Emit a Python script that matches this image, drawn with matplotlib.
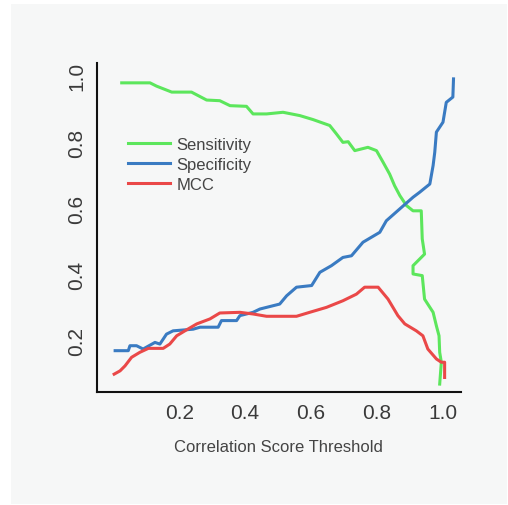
import matplotlib.pyplot as plt
from matplotlib.patches import Rectangle

# threshold / value pairs
sens_x = [0.025, 0.111, 0.131, 0.177, 0.237, 0.283, 0.323, 0.354, 0.404, 0.424,
          0.465, 0.515, 0.566, 0.606, 0.657, 0.677, 0.697, 0.713, 0.733, 0.773,
          0.799, 0.819, 0.839, 0.854, 0.870, 0.890, 0.910, 0.935, 0.938, 0.945,
          0.910, 0.910, 0.938, 0.945, 0.971, 0.981, 0.989, 0.991, 0.996, 0.991]
sens_y = [0.979, 0.979, 0.969, 0.951, 0.951, 0.927, 0.925, 0.910, 0.908, 0.885,
          0.885, 0.890, 0.880, 0.868, 0.850, 0.825, 0.799, 0.801, 0.774, 0.784,
          0.774, 0.739, 0.703, 0.668, 0.638, 0.608, 0.592, 0.592, 0.507, 0.461,
          0.426, 0.401, 0.396, 0.325, 0.285, 0.244, 0.214, 0.164, 0.134, 0.068]

spec_x = [0.005, 0.045, 0.050, 0.070, 0.090, 0.126, 0.141, 0.161, 0.181, 0.242,
          0.263, 0.318, 0.328, 0.374, 0.384, 0.424, 0.445, 0.505, 0.526, 0.556,
          0.602, 0.627, 0.662, 0.697, 0.723, 0.758, 0.809, 0.829, 0.870, 0.910,
          0.930, 0.961, 0.971, 0.976, 0.981, 1.001, 1.011, 1.031, 1.033]
spec_y = [0.169, 0.169, 0.184, 0.184, 0.174, 0.194, 0.189, 0.219, 0.229, 0.234,
          0.240, 0.240, 0.260, 0.260, 0.275, 0.285, 0.295, 0.310, 0.335, 0.361,
          0.366, 0.406, 0.426, 0.451, 0.456, 0.497, 0.527, 0.562, 0.598, 0.633,
          0.648, 0.673, 0.729, 0.769, 0.830, 0.860, 0.920, 0.936, 0.991]

mcc_x = [0.002, 0.020, 0.035, 0.055, 0.080, 0.106, 0.151, 0.171, 0.192, 0.217,
         0.253, 0.293, 0.323, 0.384, 0.424, 0.465, 0.556, 0.596, 0.647, 0.697,
         0.738, 0.763, 0.804, 0.834, 0.864, 0.885, 0.920, 0.940, 0.955, 0.981,
         0.996, 1.006, 1.006]
mcc_y = [0.098, 0.108, 0.123, 0.149, 0.164, 0.176, 0.176, 0.189, 0.214, 0.229,
         0.250, 0.265, 0.283, 0.285, 0.280, 0.273, 0.273, 0.285, 0.300, 0.320,
         0.340, 0.361, 0.361, 0.325, 0.275, 0.250, 0.229, 0.214, 0.174, 0.144,
         0.134, 0.134, 0.088]

plt.rcParams['font.family'] = ['Liberation Sans', 'DejaVu Sans']

bg = '#f6f7f7'
fig = plt.figure(figsize=(5.08, 5.06), dpi=100, facecolor='white')
fig.patches.append(Rectangle((11 / 508, 1 / 506), 496 / 508, 500 / 506,
                             transform=fig.transFigure, facecolor=bg,
                             edgecolor='none', zorder=-1))
ax = fig.add_axes([0.191, 0.2233, 0.716, 0.6502])
ax.set_facecolor(bg)

ax.plot(sens_x, sens_y, color='#5ce65c', lw=2.2, label='Sensitivity')
ax.plot(spec_x, spec_y, color='#3a7bc2', lw=2.2, label='Specificity')
ax.plot(mcc_x, mcc_y, color='#ea4848', lw=2.2, label='MCC')

ax.set_xlim(-0.05, 1.055)
ax.set_ylim(0.044, 1.039)
ax.set_xticks([0.2, 0.4, 0.6, 0.8, 1.0])
ax.set_yticks([0.2, 0.4, 0.6, 0.8, 1.0])
ax.set_xticklabels(['0.2', '0.4', '0.6', '0.8', '1.0'])
ax.set_yticklabels(['0.2', '0.4', '0.6', '0.8', '1.0'], rotation=90, va='center')
ax.tick_params(length=0, labelsize=15, labelcolor='#3a3a3a', pad=8)

for side in ['top', 'right']:
    ax.spines[side].set_visible(False)
for side in ['left', 'bottom']:
    ax.spines[side].set_linewidth(1.5)
    ax.spines[side].set_color('#111111')

ax.set_xlabel('Correlation Score Threshold', fontsize=12, color='#444444', labelpad=12)

ax.legend(loc='upper left', bbox_to_anchor=(0.085, 0.775), frameon=False,
          fontsize=12, handlelength=2.5, handletextpad=0.4, labelspacing=0.3,
          borderpad=0, borderaxespad=0, labelcolor='#444444')

fig.savefig('out.png', dpi=100, facecolor=fig.get_facecolor())
